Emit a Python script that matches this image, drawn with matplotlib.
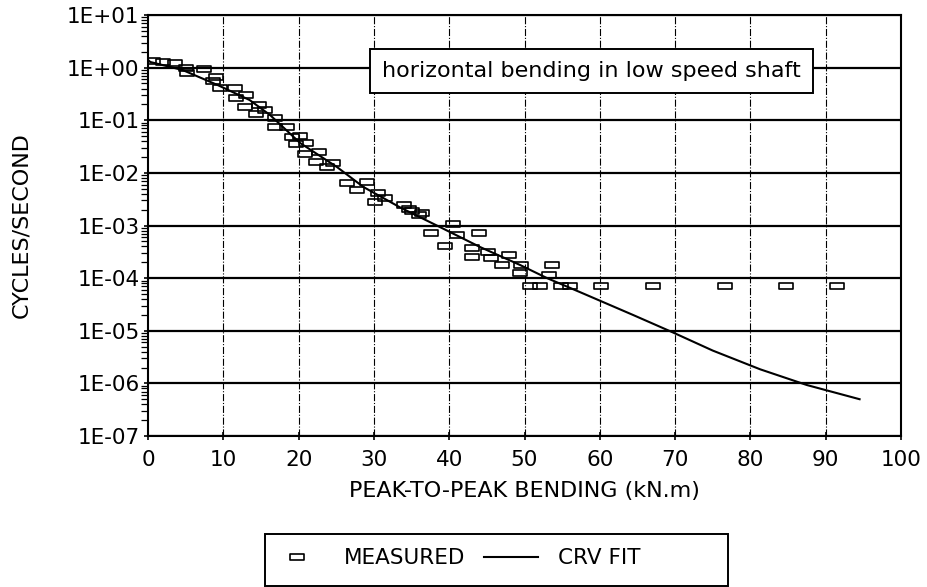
import numpy as np
import matplotlib
matplotlib.use("Agg")
import matplotlib.pyplot as plt
from matplotlib.path import Path
from matplotlib.patches import Rectangle
from matplotlib.ticker import FixedLocator, LogLocator, FuncFormatter, NullFormatter

plt.rcParams["font.family"] = ["DejaVu Sans"]

# measured rates (kN.m, cycles/s)
meas_x = [0.7, 2.0, 3.6, 5.0, 5.2, 7.5, 8.6, 9.0, 9.5, 11.5, 11.7, 13.0, 12.9,
          14.7, 14.4, 15.5, 16.8, 16.9, 18.4, 19.1, 20.2, 21.0, 19.6, 20.8,
          22.7, 22.3, 24.6, 23.8, 26.4, 29.1, 27.8, 30.5, 31.5, 30.2, 34.0,
          35.0, 36.0, 34.6, 36.4, 40.5, 37.6, 41.0, 44.0, 39.5, 43.0, 43.0,
          45.2, 45.6, 47.9, 47.0, 49.5, 49.4, 53.6, 53.2,
          50.7, 52.1, 54.8, 56.1, 60.2, 67.0, 76.6, 84.7, 91.5]
meas_y = [1.36, 1.28, 1.2, 0.98, 0.79, 0.95, 0.56, 0.66, 0.41, 0.41, 0.26,
          0.30, 0.18, 0.195, 0.13, 0.155, 0.11, 0.074, 0.074, 0.048, 0.050,
          0.037, 0.035, 0.023, 0.025, 0.016, 0.0155, 0.013, 0.0065, 0.0068,
          0.0047, 0.0042, 0.0033, 0.0028, 0.0025, 0.0019, 0.0016, 0.0021,
          0.0017, 0.00107, 0.00072, 0.00066, 0.00072, 0.00041, 0.00037,
          0.00025, 0.00032, 0.00024, 0.00028, 0.000178, 0.000178, 0.000126,
          0.000178, 0.000115,
          7.0e-5, 7.0e-5, 7.0e-5, 7.0e-5, 7.0e-5, 7.0e-5, 7.0e-5, 7.0e-5, 7.0e-5]

# curve fit
fit_x = [0.0, 0.3, 4.6, 9.2, 13.5, 16.2, 20.2, 25.1, 28.6, 33.5, 38.8, 44.1,
         49.4, 53.0, 57.8, 64.4, 69.7, 75.0, 81.3, 87.5, 94.5]
fit_y = [1.40, 1.28, 0.90, 0.47, 0.242, 0.126, 0.037, 0.0129, 0.0054, 0.0022,
         0.00093, 0.00039, 0.000178, 0.0001, 5.1e-5, 2.0e-5, 9.3e-6, 4.2e-6,
         1.85e-6, 9.3e-7, 5.0e-7]

x_ticks = list(range(0, 101, 10))
y_decades = [10.0 ** k for k in range(-7, 2)]

# flat open rectangle used as the measured marker
box = Path([(-1, -0.45), (1, -0.45), (1, 0.45), (-1, 0.45), (-1, -0.45)],
           [Path.MOVETO, Path.LINETO, Path.LINETO, Path.LINETO, Path.CLOSEPOLY])

fig = plt.figure(figsize=(9.28, 5.87), dpi=100)
ax = fig.add_axes([148 / 928, 1 - 436 / 587, (901 - 148) / 928, (436 - 15) / 587])

ax.set_yscale("log")
ax.set_xlim(0, 100)
ax.set_ylim(1e-7, 1e1)

for yv in y_decades:
    ax.axhline(yv, color="black", lw=1.6, zorder=1)
for xv in x_ticks[1:-1]:
    ax.axvline(xv, color="black", lw=0.8, ls="-.", zorder=1)

ax.plot(meas_x, meas_y, ls="none", marker=box, ms=10.5, mfc="none",
        mec="black", mew=1.2, label="MEASURED", zorder=3)
ax.plot(fit_x, fit_y, color="black", lw=1.5, label="CRV FIT", zorder=4)

ax.xaxis.set_major_locator(FixedLocator(x_ticks))
ax.yaxis.set_major_locator(FixedLocator(y_decades))
ax.yaxis.set_minor_locator(LogLocator(base=10, subs=np.arange(2, 10), numticks=20))
ax.yaxis.set_minor_formatter(NullFormatter())
ax.yaxis.set_major_formatter(
    FuncFormatter(lambda v, p: f"1E{int(round(np.log10(v))):+03d}"))

ax.tick_params(axis="both", which="major", labelsize=15.5, width=1.2, length=6,
               direction="inout", colors="black", pad=3)
ax.tick_params(axis="x", which="major", pad=7)
ax.tick_params(axis="y", which="minor", width=0.9, length=5, direction="out")
for s in ax.spines.values():
    s.set_linewidth(1.5)

ax.set_xlabel("PEAK-TO-PEAK BENDING (kN.m)", fontsize=16)
ax.xaxis.set_label_coords(0.5, -0.107)
ax.set_ylabel("CYCLES/SECOND", fontsize=16)
ax.yaxis.set_label_coords(-0.155, 0.5)

ax.text(0.311, 0.867, "horizontal bending in low speed shaft", transform=ax.transAxes,
        fontsize=16, va="center", ha="left",
        bbox=dict(boxstyle="square,pad=0.55", fc="white", ec="black", lw=1.4),
        zorder=5)

# legend frame below the plot
fig.patches.append(Rectangle((265 / 928, 0.002), (728 - 265) / 928, 0.088,
                             transform=fig.transFigure, fill=False,
                             ec="black", lw=1.4))
fig.legend(loc="center left", bbox_to_anchor=(251 / 928, 0.049), ncol=2,
           frameon=False, fontsize=15.5, handlelength=2.5, handletextpad=0.9,
           columnspacing=0.9)

fig.savefig("out.png", dpi=100)
